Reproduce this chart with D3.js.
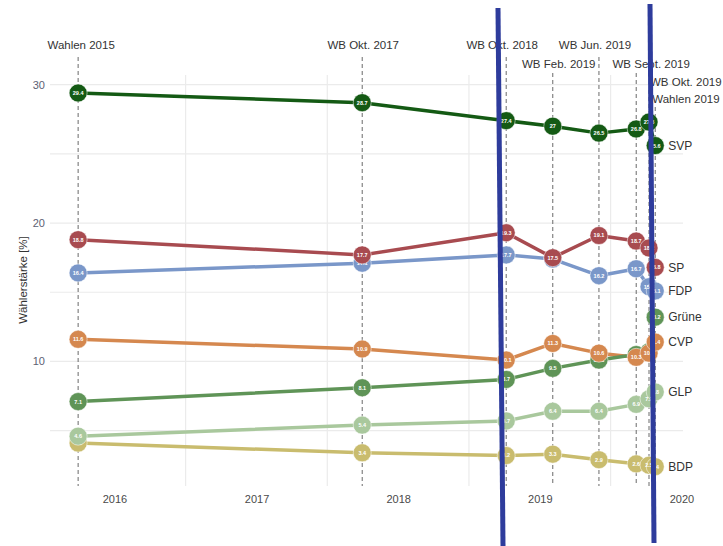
<!DOCTYPE html>
<html>
<head>
<meta charset="utf-8">
<script src="https://cdn.jsdelivr.net/npm/d3@7"></script>
<style>
  html, body { margin: 0; padding: 0; background: #fff; }
  svg { display: block; }
</style>
</head>
<body>
<svg id="chart" width="723" height="546"></svg>
<script>
// ---- data ----
const eventLabels = ["Wahlen 2015", "WB Okt. 2017", "WB Okt. 2018", "WB Feb. 2019", "WB Jun. 2019", "WB Sept. 2019", "WB Okt. 2019", "Wahlen 2019"];
const eventDates = ["2015-09-28", "2017-09-29", "2018-10-05", "2019-02-02", "2019-06-01", "2019-09-05", "2019-10-08", "2019-10-24"];
const parties = ["SVP", "SP", "FDP", "CVP", "Grüne", "GLP", "BDP"];
const svp    = [29.4, 28.7, 27.4, 27.0, 26.5, 26.8, 27.3, 25.6];
const sp     = [18.8, 17.7, 19.3, 17.5, 19.1, 18.7, 18.2, 16.8];
const fdp    = [16.4, 17.1, 17.7, 17.4, 16.2, 16.7, 15.4, 15.1];
const cvp    = [11.6, 10.9, 10.1, 11.3, 10.6, 10.3, 10.6, 11.4];
const gruene = [7.1, 8.1, 8.7, 9.5, 10.1, 10.5, 10.7, 13.2];
const glp    = [4.6, 5.4, 5.7, 6.4, 6.4, 6.9, 7.3, 7.8];
const bdp    = [4.1, 3.4, 3.2, 3.3, 2.9, 2.6, 2.5, 2.4];
const yearTicks = [2016, 2017, 2018, 2019, 2020];
const yTicks = [10, 20, 30];
const yGrid = [5, 10, 15, 20, 25, 30];
const yTitle = "Wählerstärke [%]";

// ---- styles / layout ----
const colors = ["#145a14", "#a84b50", "#7a97c9", "#d5884f", "#5f9457", "#a9c89d", "#c9bc6e"];
const seriesValues = [svp, sp, fdp, cvp, gruene, glp, bdp];
// label layout: [dx from event line, y centre, anchor]
const labelLayout = [[3, 45, "middle"], [1, 45, "middle"], [-4, 45, "middle"], [6, 64, "middle"],
                     [-4, 45, "middle"], [15, 64, "middle"], [1, 82, "start"], [-3, 99, "start"]];
const dashTop = [57, 57, 57, 73, 57, 73, 90, 107];

const parse = d3.timeParse("%Y-%m-%d");
const dates = eventDates.map(parse);

const svg = d3.select("#chart");
const panel = {left: 50, right: 683, top: 75, bottom: 486};

const x = d3.scaleTime()
  .domain([new Date(2016, 0, 1), new Date(2020, 0, 1)])
  .range([115, 682]);
const y = d3.scaleLinear().domain([1, 30.7]).range([486, 75]);

const font = "'Liberation Sans Narrow', 'Liberation Sans', Arial, sans-serif";
const fontReg = "'Liberation Sans', Arial, sans-serif";

// gridlines
const g = svg.append("g");
g.selectAll("line.hg").data(yGrid).join("line")
  .attr("x1", panel.left).attr("x2", panel.right)
  .attr("y1", d => y(d)).attr("y2", d => y(d))
  .attr("stroke", "#ebebeb").attr("stroke-width", 1.2);
const midYears = [2016, 2017, 2018, 2019].map(yr => new Date(yr, 6, 1));
g.selectAll("line.vg").data(midYears).join("line")
  .attr("x1", d => x(d)).attr("x2", d => x(d))
  .attr("y1", panel.top).attr("y2", panel.bottom)
  .attr("stroke", "#ebebeb").attr("stroke-width", 1.2);

// y ticks
svg.append("g").selectAll("text").data(yTicks).join("text")
  .attr("x", 45).attr("y", d => y(d)).attr("dy", "0.35em")
  .attr("text-anchor", "end")
  .attr("font-family", fontReg).attr("font-size", 11)
  .attr("fill", "#5d6173").text(d => d);

// x axis labels (years)
svg.append("g").selectAll("text").data(yearTicks).join("text")
  .attr("x", d => x(new Date(d, 0, 1))).attr("y", 499).attr("dy", "0.35em")
  .attr("text-anchor", "middle")
  .attr("font-family", fontReg).attr("font-size", 11)
  .attr("fill", "#4a4a4a").text(d => d);

// y title
svg.append("text")
  .attr("transform", "translate(23,280) rotate(-90)")
  .attr("text-anchor", "middle").attr("dy", "0.35em")
  .attr("font-family", fontReg).attr("font-size", 11.5)
  .attr("fill", "#333").text(yTitle);

// event dashed lines
svg.append("g").selectAll("line").data(dates).join("line")
  .attr("x1", d => x(d)).attr("x2", d => x(d))
  .attr("y1", (d, i) => dashTop[i]).attr("y2", panel.bottom)
  .attr("stroke", "#6a6a6a").attr("stroke-width", 1)
  .attr("stroke-dasharray", "4,3");

// event labels
svg.append("g").selectAll("text").data(eventLabels).join("text")
  .attr("x", (d, i) => x(dates[i]) + labelLayout[i][0])
  .attr("y", (d, i) => labelLayout[i][1]).attr("dy", "0.35em")
  .attr("text-anchor", (d, i) => labelLayout[i][2])
  .attr("font-family", font).attr("font-size", 11.5)
  .attr("fill", "#333").text(d => d);

// series
const series = parties.map((p, i) => ({
  name: p, color: colors[i],
  values: seriesValues[i].map((v, j) => ({date: dates[j], value: v}))
}));

const line = d3.line().x(d => x(d.date)).y(d => y(d.value));
svg.append("g").selectAll("path").data(series).join("path")
  .attr("d", d => line(d.values))
  .attr("fill", "none").attr("stroke", d => d.color)
  .attr("stroke-width", 3.5).attr("stroke-linejoin", "round");

const pts = svg.append("g");
series.slice().reverse().forEach(s => {
  const gg = pts.append("g");
  gg.selectAll("circle").data(s.values).join("circle")
    .attr("cx", d => x(d.date)).attr("cy", d => y(d.value)).attr("r", 9)
    .attr("fill", s.color).attr("stroke", "#ffffff").attr("stroke-opacity", 0.5).attr("stroke-width", 1);
  gg.selectAll("text").data(s.values).join("text")
    .attr("x", d => x(d.date)).attr("y", d => y(d.value)).attr("dy", "0.35em")
    .attr("text-anchor", "middle")
    .attr("font-family", fontReg).attr("font-size", 5.5).attr("font-weight", "bold")
    .attr("fill", "#fff").text(d => String(d.value));
});

// party labels at the right
svg.append("g").selectAll("text").data(series).join("text")
  .attr("x", d => x(d.values[d.values.length - 1].date) + 13)
  .attr("y", d => y(d.values[d.values.length - 1].value)).attr("dy", "0.35em")
  .attr("font-family", fontReg).attr("font-size", 12)
  .attr("fill", "#333").text(d => d.name);

// blue annotation strokes drawn over the chart
const marks = [[[498, 8], [503, 546]], [[650, 4], [654, 543]]];
svg.append("g").selectAll("line").data(marks).join("line")
  .attr("x1", d => d[0][0]).attr("y1", d => d[0][1])
  .attr("x2", d => d[1][0]).attr("y2", d => d[1][1])
  .attr("stroke", "#2e3c9c").attr("stroke-width", 5);
</script>
</body>
</html>
